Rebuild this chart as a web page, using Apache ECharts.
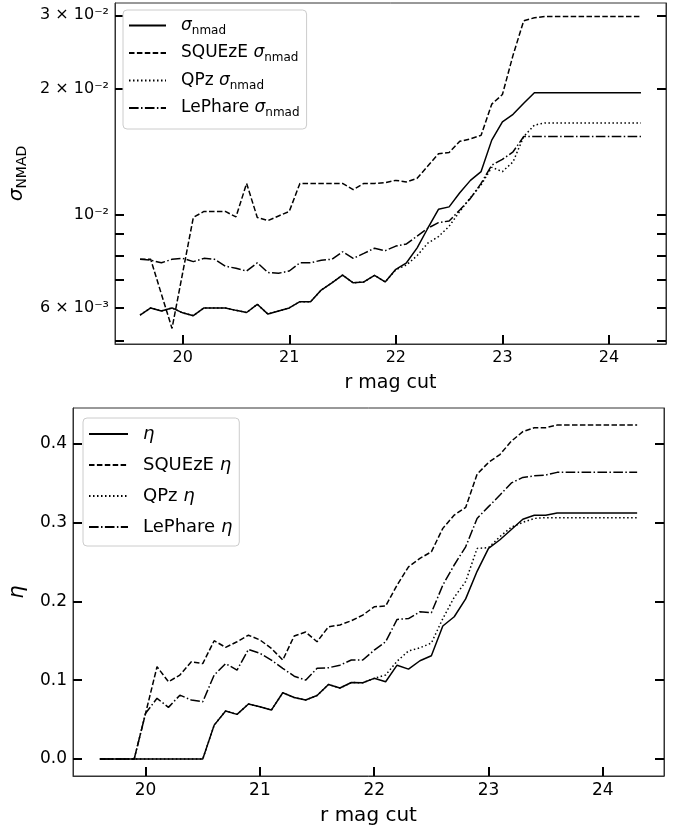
<!DOCTYPE html>
<html>
<head>
<meta charset="utf-8">
<script src="https://cdn.jsdelivr.net/npm/echarts@6/dist/echarts.min.js"></script>
<style>
  html, body { margin: 0; padding: 0; background: #fff; }
  #main { width: 684px; height: 827px; }
</style>
</head>
<body>
<div id="main"></div>
<script>
// r magnitude cuts (x of both panels)
var magCut = [19.6, 19.7, 19.8, 19.9, 20.0, 20.1, 20.2, 20.3, 20.4, 20.5,
  20.6, 20.7, 20.8, 20.9, 21.0, 21.1, 21.2, 21.3, 21.4, 21.5,
  21.6, 21.7, 21.8, 21.9, 22.0, 22.1, 22.2, 22.3, 22.4, 22.5,
  22.6, 22.7, 22.8, 22.9, 23.0, 23.1, 23.2, 23.3, 23.4, 23.5,
  23.6, 23.7, 23.8, 23.9, 24.0, 24.1, 24.2, 24.3];

// top panel: sigma_nmad
var sigmaAll = [0.00577, 0.0060, 0.0059, 0.0060, 0.00584, 0.00575, 0.0060, 0.0060, 0.0060, 0.00592,
  0.00585, 0.00612, 0.0058, 0.0059, 0.0060, 0.00621, 0.00621, 0.00662, 0.00689, 0.00719,
  0.00689, 0.00692, 0.00718, 0.00692, 0.00742, 0.00769, 0.00835, 0.0093, 0.01032, 0.01046,
  0.0113, 0.0121, 0.0127, 0.0151, 0.0167, 0.0174, 0.0185, 0.0196, 0.0196, 0.0196,
  0.0196, 0.0196, 0.0196, 0.0196, 0.0196, 0.0196, 0.0196, 0.0196];
var sigmaSqueze = [0.00784, 0.00784, 0.00648, 0.00536, 0.00728, 0.00987, 0.0102, 0.0102, 0.0102, 0.0099,
  0.0119, 0.00987, 0.0097, 0.00995, 0.0102, 0.0119, 0.0119, 0.0119, 0.0119, 0.0119,
  0.0115, 0.0119, 0.0119, 0.01195, 0.0121, 0.0120, 0.01224, 0.0131, 0.0140, 0.0141,
  0.0150, 0.0152, 0.0155, 0.0184, 0.0194, 0.0241, 0.0291, 0.0296, 0.0298, 0.0298,
  0.0298, 0.0298, 0.0298, 0.0298, 0.0298, 0.0298, 0.0298, 0.0298];
var sigmaQpz = [0.00577, 0.0060, 0.0059, 0.0060, 0.00584, 0.00575, 0.0060, 0.0060, 0.0060, 0.00592,
  0.00585, 0.00612, 0.0058, 0.0059, 0.0060, 0.00621, 0.00621, 0.00662, 0.00689, 0.00719,
  0.00689, 0.00692, 0.00718, 0.00692, 0.0074, 0.0076, 0.0080, 0.00857, 0.00888, 0.0094,
  0.0102, 0.0110, 0.0118, 0.0130, 0.0127, 0.0134, 0.0154, 0.0164, 0.0166, 0.0166,
  0.0166, 0.0166, 0.0166, 0.0166, 0.0166, 0.0166, 0.0166, 0.0166];
var sigmaLephare = [0.00784, 0.0078, 0.00769, 0.00784, 0.00788, 0.00774, 0.00788, 0.00784, 0.00755, 0.00746,
  0.00735, 0.00769, 0.00729, 0.00726, 0.00735, 0.00769, 0.00769, 0.0078, 0.00784, 0.00817,
  0.00788, 0.0081, 0.00833, 0.00822, 0.00843, 0.00853, 0.00891, 0.0093, 0.00959, 0.00968,
  0.01028, 0.01096, 0.0119, 0.01316, 0.01358, 0.01416, 0.0154, 0.0154, 0.0154, 0.0154,
  0.0154, 0.0154, 0.0154, 0.0154, 0.0154, 0.0154, 0.0154, 0.0154];

// bottom panel: eta
var etaAll = [0, 0, 0, 0, 0, 0, 0, 0, 0, 0,
  0.043, 0.061, 0.0566, 0.0697, 0.0663, 0.0621, 0.084, 0.078, 0.0748, 0.0805,
  0.0946, 0.09, 0.097, 0.0967, 0.1023, 0.098, 0.119, 0.114, 0.1246, 0.131,
  0.1686, 0.1804, 0.203, 0.238, 0.267, 0.278, 0.291, 0.304, 0.309, 0.309,
  0.312, 0.312, 0.312, 0.312, 0.312, 0.312, 0.312, 0.312];
var etaSqueze = [0, 0, 0, 0, 0.058, 0.117, 0.098, 0.1065, 0.1233, 0.121,
  0.15, 0.1416, 0.1487, 0.157, 0.151, 0.1403, 0.1255, 0.156, 0.161, 0.1487,
  0.1677, 0.17, 0.1753, 0.1825, 0.193, 0.194, 0.2205, 0.2437, 0.2544, 0.2627,
  0.2924, 0.3093, 0.319, 0.361, 0.376, 0.386, 0.403, 0.415, 0.420, 0.420,
  0.4233, 0.4233, 0.4233, 0.4233, 0.4233, 0.4233, 0.4233, 0.4233];
var etaQpz = [0, 0, 0, 0, 0, 0, 0, 0, 0, 0,
  0.043, 0.061, 0.0566, 0.0697, 0.0663, 0.0621, 0.084, 0.078, 0.0748, 0.0805,
  0.0946, 0.09, 0.097, 0.0967, 0.1023, 0.1065, 0.124, 0.137, 0.141, 0.147,
  0.178, 0.205, 0.225, 0.267, 0.268, 0.282, 0.294, 0.300, 0.305, 0.306,
  0.306, 0.306, 0.306, 0.306, 0.306, 0.306, 0.306, 0.306];
var etaLephare = [0, 0, 0, 0, 0.058, 0.077, 0.0655, 0.081, 0.0748, 0.0726,
  0.1065, 0.121, 0.1128, 0.139, 0.134, 0.1255, 0.115, 0.105, 0.100, 0.115,
  0.1157, 0.119, 0.1255, 0.1255, 0.138, 0.1487, 0.177, 0.178, 0.1867, 0.1854,
  0.2205, 0.246, 0.269, 0.305, 0.32, 0.3346, 0.350, 0.357, 0.359, 0.360,
  0.3634, 0.3634, 0.3634, 0.3634, 0.3634, 0.3634, 0.3634, 0.3634];

// ticks
var xTicks = [20, 21, 22, 23, 24];
var sigmaTicks = [0.005, 0.006, 0.007, 0.008, 0.009, 0.01, 0.02, 0.03];
var sigmaLabelTicks = [0.006, 0.01, 0.02, 0.03];
var sigmaLabels = ['6 × 10⁻³', '10⁻²', '2 × 10⁻²', '3 × 10⁻²'];
var etaTicks = [0.0, 0.1, 0.2, 0.3, 0.4];

var FONT = 'DejaVu Sans';
var myChart = echarts.init(document.getElementById('main'));

function pairs(ys) {
  return magCut.map(function (m, i) { return [m, ys[i]]; });
}

var dash = [5.5, 2.4];
var dot = [1.5, 2.5];
var dashDot = [9.6, 2.4, 1.5, 2.4];

function line(name, ys, type, gi) {
  return {
    name: name,
    type: 'line',
    xAxisIndex: gi,
    yAxisIndex: gi * 2,
    data: pairs(ys),
    symbol: 'none',
    showSymbol: false,
    lineStyle: { color: '#000', width: 1.5, type: type },
    itemStyle: { color: '#000' },
    animation: false
  };
}

var legendText = {
  sAll: '{t|}{g|σ}{s|nmad}',
  sSq: '{t|SQUEzE }{g|σ}{s|nmad}',
  sQp: '{t|QPz }{g|σ}{s|nmad}',
  sLe: '{t|LePhare }{g|σ}{s|nmad}',
  eAll: '{g|η}',
  eSq: '{t|SQUEzE }{g|η}',
  eQp: '{t|QPz }{g|η}',
  eLe: '{t|LePhare }{g|η}'
};

function richSet(fs, lh) {
  return {
    p: { width: 10 },
    t: { fontSize: fs, fontFamily: FONT, color: '#000', lineHeight: lh },
    g: { fontSize: fs, fontFamily: FONT, fontStyle: 'italic', color: '#000', lineHeight: lh },
    s: { fontSize: Math.round(fs * 0.7), fontFamily: FONT, color: '#000', verticalAlign: 'bottom' }
  };
}

function xAxisDef(gi, fs, nfs, gap) {
  return {
    gridIndex: gi,
    type: 'value',
    min: 19.365,
    max: 24.535,
    name: 'r mag cut',
    nameLocation: 'middle',
    nameGap: gap,
    nameTextStyle: { fontSize: nfs, fontFamily: FONT, color: '#000' },
    axisLine: { onZero: false, lineStyle: { color: '#333', width: 1 } },
    axisTick: { inside: true, length: 9, customValues: xTicks, lineStyle: { color: '#000', width: 2 } },
    axisLabel: { customValues: xTicks, fontSize: fs, fontFamily: FONT, color: '#000', margin: 6 },
    splitLine: { show: false }
  };
}

function sigmaFmt(v) {
  for (var i = 0; i < sigmaLabelTicks.length; i++) {
    if (Math.abs(v - sigmaLabelTicks[i]) / sigmaLabelTicks[i] < 1e-4) return sigmaLabels[i];
  }
  return '';
}

function sigmaAxis(pos) {
  return {
    gridIndex: 0,
    type: 'log',
    logBase: 10,
    position: pos,
    min: 0.00492,
    max: 0.0321,
    name: pos === 'left' ? '{g|σ}{s|NMAD}' : '',
    nameLocation: 'middle',
    nameRotate: 90,
    nameGap: 84,
    nameTextStyle: { rich: richSet(20, 24) },
    axisLine: { onZero: false, lineStyle: { color: '#333', width: 1 } },
    axisTick: { inside: true, length: 9, customValues: sigmaTicks, lineStyle: { color: '#000', width: 2 } },
    axisLabel: { show: pos === 'left', customValues: sigmaLabelTicks, formatter: sigmaFmt,
      fontSize: 16, fontFamily: FONT, color: '#000', margin: 6 },
    splitLine: { show: false },
    minorTick: { show: false }
  };
}

function etaAxis(pos) {
  return {
    gridIndex: 1,
    type: 'value',
    position: pos,
    min: -0.0215,
    max: 0.445,
    name: pos === 'left' ? '{g|η}' : '',
    nameLocation: 'middle',
    nameRotate: 90,
    nameGap: 43,
    nameTextStyle: { rich: richSet(21, 24) },
    axisLine: { onZero: false, lineStyle: { color: '#333', width: 1 } },
    axisTick: { inside: true, length: 9, customValues: etaTicks, lineStyle: { color: '#000', width: 2 } },
    axisLabel: { show: pos === 'left', customValues: etaTicks,
      formatter: function (v) { return v.toFixed(1); },
      fontSize: 17, fontFamily: FONT, color: '#000', margin: 6 },
    splitLine: { show: false }
  };
}

function legendDef(names, left, top, fs, lh, gap, iw) {
  return {
    orient: 'vertical',
    left: left,
    top: top,
    data: names,
    itemWidth: iw,
    itemHeight: 14,
    itemGap: gap,
    padding: [7, 7, 10, 5],
    backgroundColor: '#fff',
    borderColor: '#ccc',
    borderWidth: 1,
    borderRadius: 4,
    selectedMode: false,
    itemStyle: { opacity: 0 },
    formatter: function (name) { return '{p| }' + legendText[name]; },
    textStyle: { fontSize: fs, fontFamily: FONT, color: '#000', rich: richSet(fs, lh) }
  };
}

var option = {
  backgroundColor: '#fff',
  animation: false,
  grid: [
    { left: 115, right: 18, top: 3, height: 341, show: true, borderColor: '#333', borderWidth: 1,
      containLabel: false, outerBoundsMode: 'none' },
    { left: 73, right: 20, top: 408, height: 368, show: true, borderColor: '#333', borderWidth: 1,
      containLabel: false, outerBoundsMode: 'none' }
  ],
  legend: [
    legendDef(['sAll', 'sSq', 'sQp', 'sLe'], 123, 10, 17, 22, 8, 37),
    legendDef(['eAll', 'eSq', 'eQp', 'eLe'], 83, 418, 18, 24, 13, 39)
  ],
  xAxis: [xAxisDef(0, 16, 19, 30), xAxisDef(1, 17, 20, 30)],
  yAxis: [sigmaAxis('left'), sigmaAxis('right'), etaAxis('left'), etaAxis('right')],
  series: [
    line('sAll', sigmaAll, 'solid', 0),
    line('sSq', sigmaSqueze, dash, 0),
    line('sQp', sigmaQpz, dot, 0),
    line('sLe', sigmaLephare, dashDot, 0),
    line('eAll', etaAll, 'solid', 1),
    line('eSq', etaSqueze, dash, 1),
    line('eQp', etaQpz, dot, 1),
    line('eLe', etaLephare, dashDot, 1)
  ]
};

myChart.setOption(option);
</script>
</body>
</html>
